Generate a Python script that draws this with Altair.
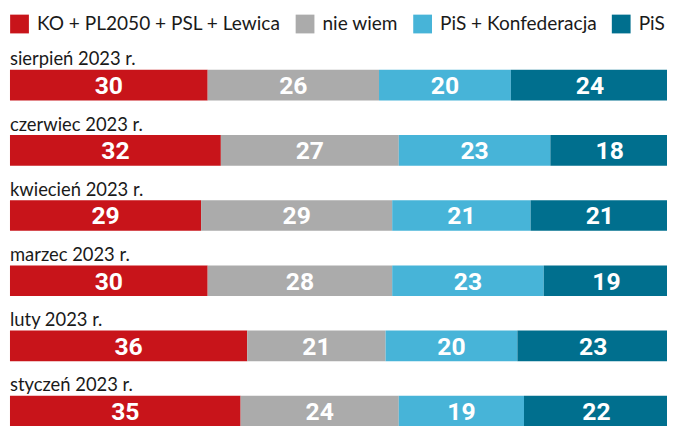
import altair as alt
import pandas as pd

months = ["sierpień 2023 r.", "czerwiec 2023 r.", "kwiecień 2023 r.",
          "marzec 2023 r.", "luty 2023 r.", "styczeń 2023 r."]
categories = ["KO + PL2050 + PSL + Lewica", "nie wiem", "PiS + Konfederacja", "PiS"]
colors = ["#C8141A", "#ABABAB", "#47B4D8", "#006F8E"]

ko = [30, 32, 29, 30, 36, 35]
niewiem = [26, 27, 29, 28, 21, 24]
pis_konf = [20, 23, 21, 23, 20, 19]
pis = [24, 18, 21, 19, 23, 22]

series = [ko, niewiem, pis_konf, pis]
rows = []
for ci, (cat, vals) in enumerate(zip(categories, series)):
    for mi, m in enumerate(months):
        rows.append({"month": m, "category": cat, "order": ci, "value": vals[mi]})
df = pd.DataFrame(rows)
labels_df = pd.DataFrame({"month": months})

FONT = "Lato"
NUMFONT = "Roboto"

yscale = alt.Scale(domain=months, range=[60, 421], paddingInner=0.53, paddingOuter=0)
xscale = alt.Scale(domain=[-0.3, 99.7], nice=False, zero=False)

base = alt.Chart(df).transform_stack(
    stack="value", groupby=["month"], as_=["x0", "x1"],
    sort=[alt.SortField("order", order="ascending")]
).transform_calculate(mid="(datum.x0 + datum.x1) / 2")

bars = base.mark_bar().encode(
    y=alt.Y("month:N", scale=yscale, axis=None),
    x=alt.X("x0:Q", scale=xscale, axis=None),
    x2="x1:Q",
    color=alt.Color(
        "category:N",
        scale=alt.Scale(domain=categories, range=colors),
        legend=alt.Legend(
            title=None, orient="none", legendX=2, legendY=4, direction="horizontal",
            symbolType="square", symbolSize=361, symbolStrokeWidth=0, symbolOpacity=1,
            labelFont=FONT, labelFontSize=19.3, labelColor="#1a1a1a", labelOffset=8,
            columnPadding=15, labelLimit=400,
        ),
    ),
)

nums = base.mark_text(font=NUMFONT, fontSize=25, fontWeight="bold", color="white",
                      baseline="middle", dy=1).encode(
    y=alt.Y("month:N", scale=yscale, axis=None),
    x=alt.X("mid:Q", scale=xscale, axis=None),
    text="value:Q",
)

month_labels = alt.Chart(labels_df).mark_text(
    font=FONT, fontSize=18.6, color="#1a1a1a", align="left", baseline="alphabetic", dy=-20
).encode(
    y=alt.Y("month:N", scale=yscale, axis=None),
    x=alt.value(2),
    text="month:N",
)

chart = alt.layer(bars, nums, month_labels).properties(
    width=667, height=418, padding=0, autosize=alt.AutoSizeParams(type="none"),
).configure_view(stroke=None)

chart.save("out.html", embed_options={"renderer": "svg", "actions": False})
